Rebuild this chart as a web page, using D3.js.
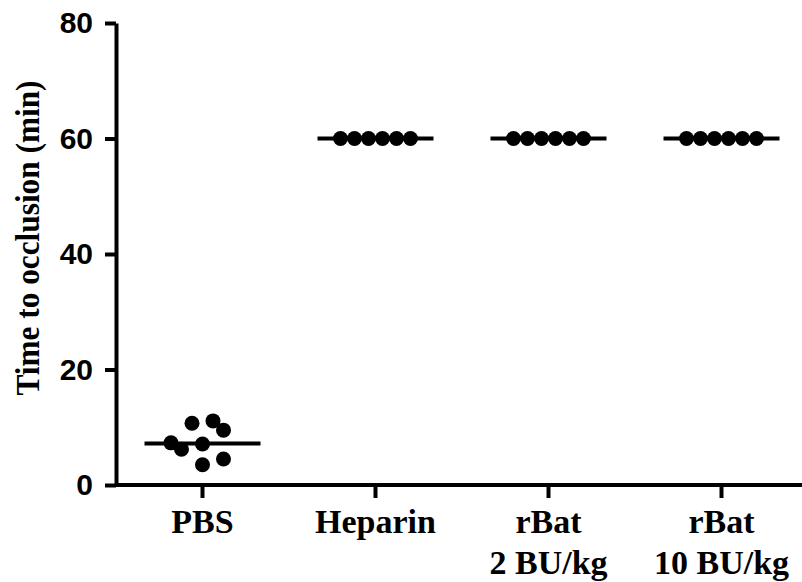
<!DOCTYPE html>
<html>
<head>
<meta charset="utf-8">
<style>
body { margin: 0; background: #fff; }
.axis path, .axis line { stroke: #000; stroke-width: 4; }
.y.axis text { font: bold 30px "Liberation Sans", Arial, sans-serif; fill: #000; }
.x.axis text { font: bold 34px "Liberation Serif", "Times New Roman", serif; fill: #000; }
.ytitle { font: bold 34px "Liberation Serif", "Times New Roman", serif; fill: #000; }
</style>
</head>
<body>
<svg class="chart"></svg>
<script src="https://d3js.org/d3.v7.min.js"></script>
<script>

var groups = ["PBS", "Heparin", "rBat 2", "rBat 10"]
var groupLabels = [["PBS"], ["Heparin"], ["rBat", "2 BU/kg"], ["rBat", "10 BU/kg"]]

var pbsValues = [10.7, 11.1, 9.5, 7.3, 6.2, 7.1, 3.5, 4.5]
var heparinValues = [60, 60, 60, 60, 60, 60]
var rbat2Values = [60, 60, 60, 60, 60, 60]
var rbat10Values = [60, 60, 60, 60, 60, 60]

// scatter slot of each dot inside its column
var pbsSlots = [-1.5, 1.5, 3, -4.5, -3, 0, 0, 3]
var rowSlots = [-5, -3, -1, 1, 3, 5]

var yTicks = [0, 20, 40, 60, 80]

var series = [
  {name: groups[0], values: pbsValues, slots: pbsSlots},
  {name: groups[1], values: heparinValues, slots: rowSlots},
  {name: groups[2], values: rbat2Values, slots: rowSlots},
  {name: groups[3], values: rbat10Values, slots: rowSlots}
]

var width = 802, height = 582
var slotW = 7, r = 7.5, halfMedian = 58

var x = d3.scaleBand()
  .domain(groups)
  .range([116, 808])

var y = d3.scaleLinear()
  .domain([0, 80])
  .range([485, 23])

var chart = d3.select(".chart")
  .attr("width", width)
  .attr("height", height)

chart.append("g")
  .attr("class", "x axis")
  .attr("transform", "translate(0,485)")
  .call(d3.axisBottom(x).tickSize(13).tickSizeOuter(0).tickFormat(""))

chart.select(".x.axis path").attr("d", "M116,0H808")

var xt = chart.select(".x.axis").selectAll(".tick")
  .append("text")
  .attr("text-anchor", "middle")
  .attr("y", 48)

xt.selectAll("tspan")
  .data((d, i) => groupLabels[i])
  .enter().append("tspan")
  .attr("x", 0)
  .attr("dy", (d, i) => i ? 41 : 0)
  .text(d => d)

chart.append("g")
  .attr("class", "y axis")
  .attr("transform", "translate(116,0)")
  .call(d3.axisLeft(y).tickValues(yTicks).tickSize(11).tickPadding(12).tickSizeOuter(0))

chart.append("text")
  .attr("class", "ytitle")
  .attr("transform", "rotate(-90)")
  .attr("x", -238)
  .attr("y", 39)
  .attr("text-anchor", "middle")
  .attr("textLength", 315)
  .attr("lengthAdjust", "spacingAndGlyphs")
  .text("Time to occlusion (min)")

var cols = chart.selectAll(".col")
  .data(series)
  .enter().append("g")
  .attr("class", "col")
  .attr("transform", d => `translate(${x(d.name) + x.bandwidth() / 2},0)`)

cols.append("line")
  .attr("x1", -halfMedian)
  .attr("x2", halfMedian)
  .attr("y1", d => y(d3.median(d.values)))
  .attr("y2", d => y(d3.median(d.values)))
  .attr("stroke", "#000")
  .attr("stroke-width", 4)

cols.selectAll("circle")
  .data(d => d.values.map((v, i) => ({v: v, s: d.slots[i]})))
  .enter().append("circle")
  .attr("cx", d => d.s * slotW)
  .attr("cy", d => y(d.v))
  .attr("r", r)
  .attr("fill", "#000")

</script>
</body>
</html>
